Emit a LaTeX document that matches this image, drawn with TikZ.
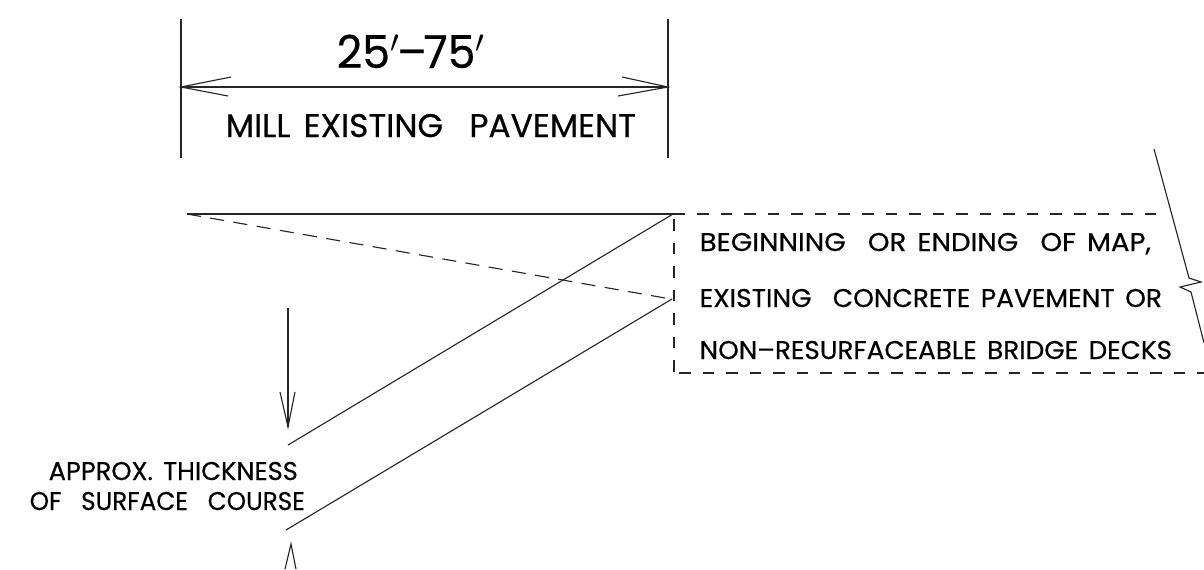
\documentclass[tikz,border=0pt]{standalone}
\usepackage{fontspec}
\usepackage{graphicx}
\setmainfont[FakeBold=0.5]{Poppins}
\tikzset{
  x=0.01cm,y=-0.01cm,
  line/.style={draw=black!85,line width=0.32pt},
  dashH/.style={line,dash pattern=on 3.3pt off 3.4pt},
  dashD/.style={line,dash pattern=on 4pt off 2.7pt},
  lbl/.style={anchor=base west,inner sep=0pt,text=black},
}
\newcommand{\wtext}[3]{\resizebox{#1}{\height}{\fontsize{#2}{#2}\selectfont #3}}
\newcommand{\wsp}{\hspace{0.4em}}
\begin{document}
\begin{tikzpicture}
\useasboundingbox (0,0) rectangle (1204,569);
% dimension
\coordinate (dimL) at (181,87); \coordinate (dimR) at (668,87);
\coordinate (lT) at (181,19); \coordinate (lB) at (181,158);
\coordinate (rT) at (668,19); \coordinate (rB) at (668,158);
\draw[line] (lT)--(lB);
\draw[line] (rT)--(rB);
\draw[line] (dimL)--(dimR);
\draw[line] (231,77)--(dimL)--(228,96);
\draw[line] (622,77)--(dimR)--(618,96);
\node[lbl] (dimtext) at (336,68) {\wtext{1.49cm}{12.9pt}{25${}'$\hspace{-0.08em}--\hspace{-0.08em}75${}'$}};
\node[lbl] (mill) at (225,137) {\wtext{4.10cm}{9.3pt}{MILL\wsp EXISTING\wsp\wsp PAVEMENT}};
% pavement
\coordinate (sA) at (187,214); \coordinate (sB) at (685,214); \coordinate (sC) at (673,214);
\coordinate (sD) at (288,445); \coordinate (tA) at (672,299); \coordinate (tB) at (286,530);
\draw[line] (sA)--(sB);
\draw[line] (sC)--(sD);
\draw[line] (tA)--(tB);
\draw[dashD] (sA)--(668,298.5);
% dashed box
\draw[dashH] (697,214)--(1161,214);
\draw[dashH] (674,219)--(674,373);
\draw[dashH] (679,373)--(1204,373);
% brace
\draw[line] (1154,149)--(1189,278)--(1201,282)--(1180,287)--(1191,292)--(1204,343);
\node[lbl] (t1) at (699,251) {\wtext{4.51cm}{7.3pt}{BEGINNING\wsp\wsp OR\wsp ENDING\wsp\wsp OF\wsp MAP,}};
\node[lbl] (t2) at (699,307) {\wtext{4.62cm}{7.3pt}{EXISTING\wsp\wsp CONCRETE\wsp PAVEMENT\wsp OR}};
\node[lbl] (t3) at (699,359) {\wtext{4.72cm}{7.3pt}{NON--RESURFACEABLE\wsp BRIDGE\wsp DECKS}};
% thickness
\coordinate (aT) at (288,308); \coordinate (aH) at (288,427);
\draw[line] (aT)--(aH);
\draw[line] (280,392)--(aH)--(295,392);
\coordinate (bH) at (291,544);
\draw[line] (285,569)--(bH)--(296,569);
\node[lbl] (t4) at (48,480) {\wtext{2.49cm}{7.3pt}{APPROX.\wsp THICKNESS}};
\node[lbl] (t5) at (29,510) {\wtext{2.75cm}{7.3pt}{OF\wsp\wsp SURFACE\wsp\wsp COURSE}};
\end{tikzpicture}
\end{document}
